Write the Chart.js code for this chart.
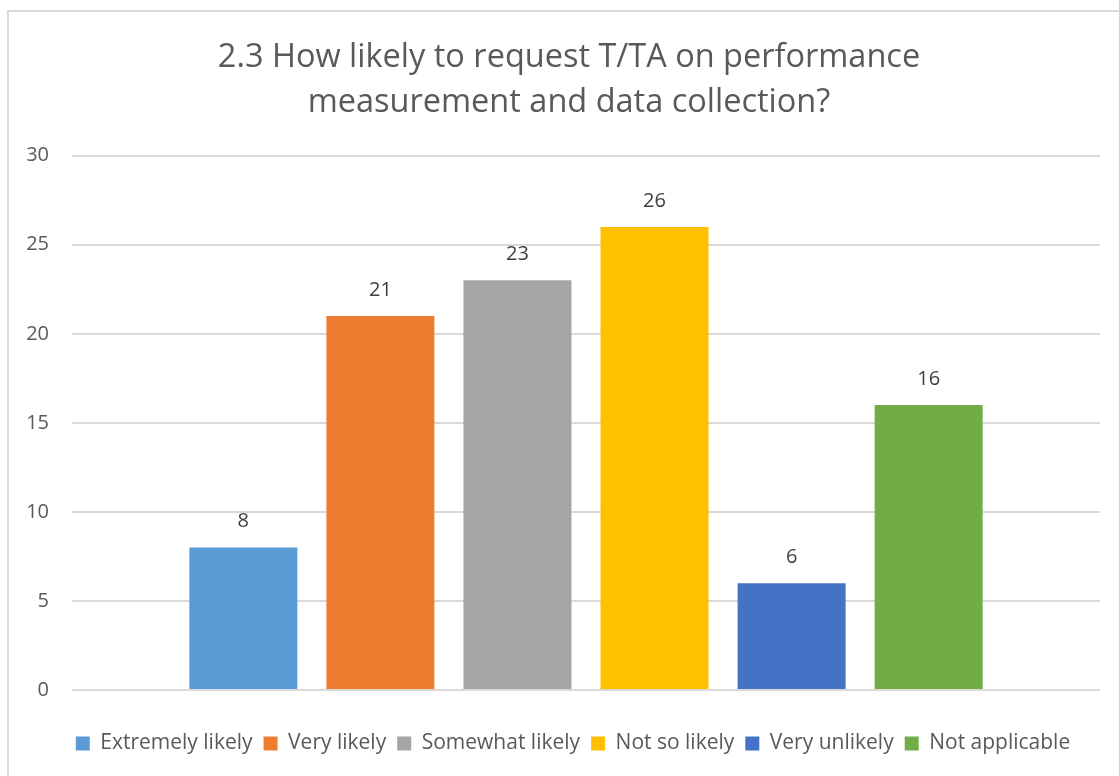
<!DOCTYPE html>
<html>
<head>
<meta charset="utf-8">
<script src="https://cdn.jsdelivr.net/npm/chart.js@4/dist/chart.umd.min.js"></script>
<style>
html,body{margin:0;padding:0;background:#fff;}
#wrap{position:absolute;left:0;top:0;width:1119px;height:776px;}
#frame{position:absolute;left:7px;top:10px;width:1130px;height:800px;border:2px solid #D9D9D9;box-sizing:border-box;}
canvas{position:absolute;left:0;top:0;}
</style>
</head>
<body>
<div id="wrap"><div id="frame"></div><canvas id="c" width="1119" height="776"></canvas></div>
<script>
const titleLines = ["2.3 How likely to request T/TA on performance", "measurement and data collection?"];
const categories = [""];
const seriesNames = ["Extremely likely", "Very likely", "Somewhat likely", "Not so likely", "Very unlikely", "Not applicable"];
const seriesValues = [8, 21, 23, 26, 6, 16];
const seriesColors = ["#5B9BD5", "#ED7D31", "#A5A5A5", "#FFC000", "#4472C4", "#70AD47"];
const yTicks = [0, 5, 10, 15, 20, 25, 30];

const FONT = "'Open Sans', 'Liberation Sans', sans-serif";

const datasets = seriesNames.map((n, i) => ({
  label: n,
  data: [seriesValues[i]],
  backgroundColor: seriesColors[i],
  borderWidth: 0,
  categoryPercentage: 0.8,
  barPercentage: 0.788
}));

const valueLabels = {
  id: 'valueLabels',
  afterDatasetsDraw(chart) {
    const ctx = chart.ctx;
    ctx.save();
    ctx.font = "20px " + FONT;
    ctx.fillStyle = "#404040";
    ctx.textAlign = "center";
    ctx.textBaseline = "middle";
    chart.data.datasets.forEach((ds, i) => {
      const meta = chart.getDatasetMeta(i);
      meta.data.forEach((bar, j) => {
        ctx.fillText(String(ds.data[j]), bar.x, bar.y - 26);
      });
    });
    ctx.restore();
  }
};

// shift title/legend centre to match the reference (centred on the framed chart)
const centreShift = {
  id: 'centreShift',
  afterLayout(chart) {
    if (chart.titleBlock) chart.titleBlock.left = 38;
    if (chart.legend) chart.legend.left = 46;
  }
};

new Chart(document.getElementById('c'), {
  type: 'bar',
  data: { labels: categories, datasets },
  plugins: [valueLabels, centreShift],
  options: {
    responsive: false,
    animation: false,
    layout: { padding: { left: 0, right: 19, top: 0, bottom: 12 } },
    plugins: {
      title: {
        display: true,
        text: titleLines,
        color: "#595959",
        font: { family: FONT, size: 32.5, weight: 'normal', lineHeight: 1.38 },
        padding: { top: 35, bottom: 31 }
      },
      legend: {
        position: 'bottom',
        labels: {
          color: "#595959",
          font: { family: FONT, size: 21 },
          boxWidth: 14,
          boxHeight: 14,
          padding: 11
        }
      },
      tooltip: { enabled: false }
    },
    scales: {
      x: {
        grid: { display: false },
        border: { display: false },
        ticks: { display: false },
        afterFit(scale) { scale.height = 32; }
      },
      y: {
        min: 0,
        max: 30,
        afterBuildTicks(scale) { scale.ticks = yTicks.map(v => ({ value: v })); },
        afterFit(scale) { scale.width = 72; },
        grid: { color: "#D9D9D9", lineWidth: 2, drawTicks: false },
        border: { display: false },
        ticks: {
          color: "#595959",
          font: { family: FONT, size: 20 },
          padding: 23
        }
      }
    }
  }
});
</script>
</body>
</html>
